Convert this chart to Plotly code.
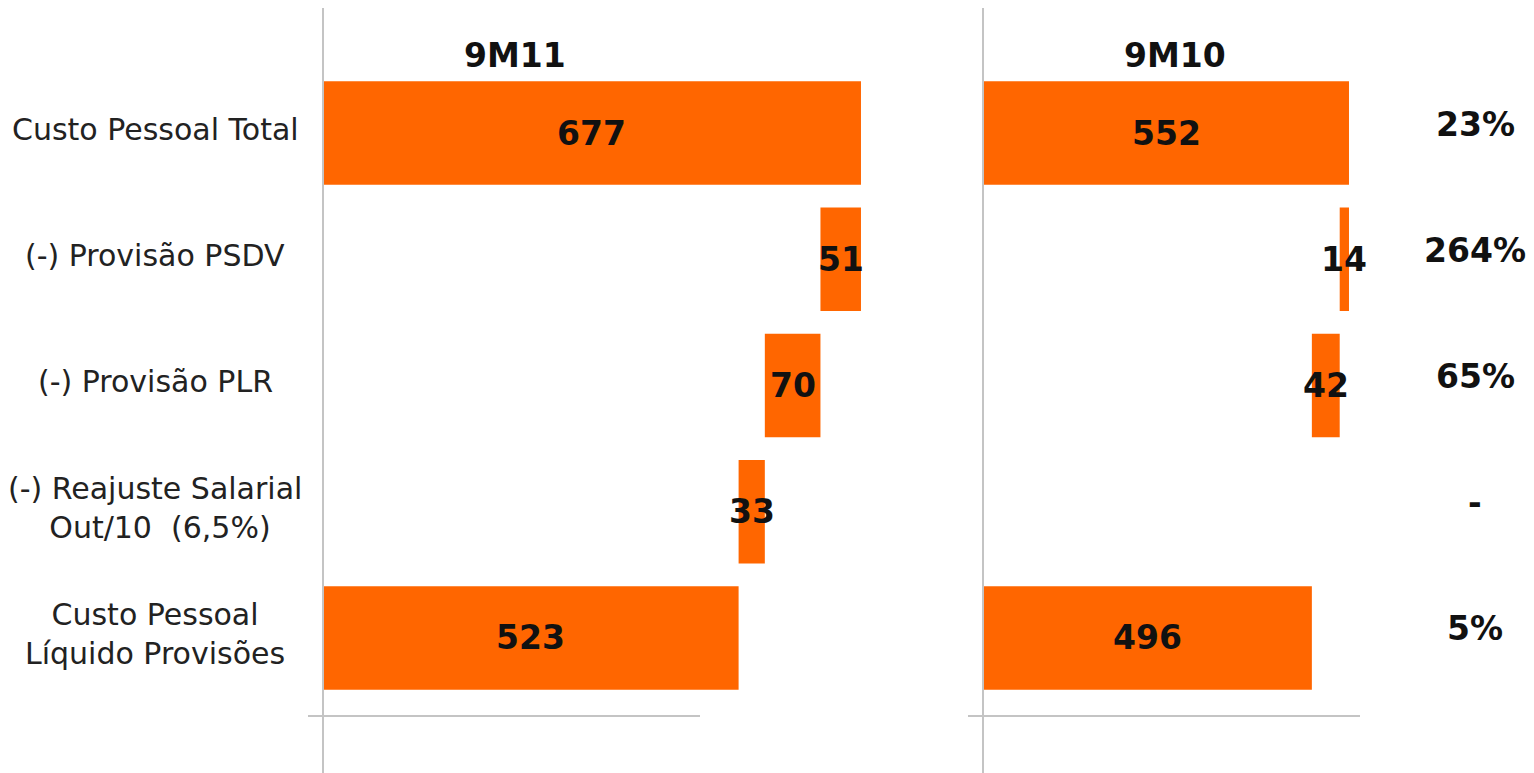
import plotly.graph_objects as go

# ---- data ----
categories = [
    "Custo Pessoal Total",
    "(-) Provisão PSDV",
    "(-) Provisão PLR",
    "(-) Reajuste Salarial<br> Out/10  (6,5%)",
    "Custo Pessoal<br>Líquido Provisões",
]
measures = ["total", "drop", "drop", "drop", "total"]
values_9m11 = [677, 51, 70, 33, 523]
values_9m10 = [552, 14, 42, None, 496]
variation = ["23%", "264%", "65%", "-", "5%"]
panel_titles = ["9M11", "9M10"]

OFF = 8  # page body margin
W, H = 1534 - OFF, 773 - OFF
ORANGE = "#FF6600"
GRID = "#c4c4c4"
FONT = "DejaVu Sans"


def px(x):
    return (x - OFF) / W


def py(y):
    return 1 - (y - OFF) / H


def bases(values, measures):
    out = []
    running = 0
    for v, m in zip(values, measures):
        if v is None:
            out.append(None)
            continue
        if m == "total":
            out.append(0)
            running = v
        else:
            running = running - v
            out.append(running)
    return out


b11 = bases(values_9m11, measures)
b10 = bases(values_9m10, measures)

fig = go.Figure()
fig.add_trace(go.Bar(
    y=categories, x=values_9m11, base=b11, orientation="h",
    marker=dict(color=ORANGE, line=dict(width=0)), width=0.82,
    xaxis="x", yaxis="y", hoverinfo="skip", showlegend=False,
))
fig.add_trace(go.Bar(
    y=categories, x=values_9m10, base=b10, orientation="h",
    marker=dict(color=ORANGE, line=dict(width=0)), width=0.82,
    xaxis="x2", yaxis="y2", hoverinfo="skip", showlegend=False,
))

ann = []
# value labels centered on bars
for vals, bs, xr, yr in [(values_9m11, b11, "x", "y"), (values_9m10, b10, "x2", "y2")]:
    for c, v, b in zip(categories, vals, bs):
        if v is None:
            continue
        ann.append(dict(x=b + v / 2, y=c, xref=xr, yref=yr, text="<b>%d</b>" % v,
                        showarrow=False, font=dict(family=FONT, size=33, color="#111111"),
                        xanchor="center", yanchor="middle"))

# category labels on the left
for c in categories:
    ann.append(dict(x=px(155), y=c, xref="paper", yref="y", text=c, showarrow=False,
                    align="center", xanchor="center", yanchor="middle", yshift=4,
                    font=dict(family=FONT, size=30, color="#222222")))

# variation on the right
for c, t in zip(categories, variation):
    ann.append(dict(x=px(1475), y=c, xref="paper", yref="y", text="<b>%s</b>" % t,
                    showarrow=False, xanchor="center", yanchor="middle", yshift=9,
                    font=dict(family=FONT, size=33, color="#111111")))

# panel titles
for t, xc in zip(panel_titles, [515, 1175]):
    ann.append(dict(x=px(xc), y=py(55), xref="paper", yref="paper", text="<b>%s</b>" % t,
                    showarrow=False, xanchor="center", yanchor="middle",
                    font=dict(family=FONT, size=33, color="#111111")))

shapes = []
for x0, hx0, hx1 in [(323, 308, 700), (983, 968, 1360)]:
    shapes.append(dict(type="line", xref="paper", yref="paper",
                       x0=px(x0), x1=px(x0), y0=py(773), y1=py(8),
                       line=dict(color=GRID, width=2)))
    shapes.append(dict(type="line", xref="paper", yref="paper",
                       x0=px(hx0), x1=px(hx1), y0=py(716), y1=py(716),
                       line=dict(color=GRID, width=2)))

ydom = [py(701), py(70)]
yax = dict(domain=ydom, categoryorder="array", categoryarray=categories,
           autorange="reversed", showticklabels=False, showgrid=False,
           zeroline=False, showline=False, ticks="")

fig.update_layout(
    width=W, height=H,
    margin=dict(l=0, r=0, t=0, b=0),
    paper_bgcolor="white", plot_bgcolor="rgba(0,0,0,0)",
    barmode="overlay",
    xaxis=dict(domain=[px(323), px(864)], range=[0, 680.8], showticklabels=False,
               showgrid=False, zeroline=False, showline=False, ticks=""),
    xaxis2=dict(domain=[px(983), px(1360)], range=[0, 568.6], showticklabels=False,
                showgrid=False, zeroline=False, showline=False, ticks=""),
    yaxis=yax,
    yaxis2=dict(yax, anchor="x2"),
    annotations=ann,
    shapes=shapes,
    font=dict(family=FONT),
)

fig.write_html("out.html")
